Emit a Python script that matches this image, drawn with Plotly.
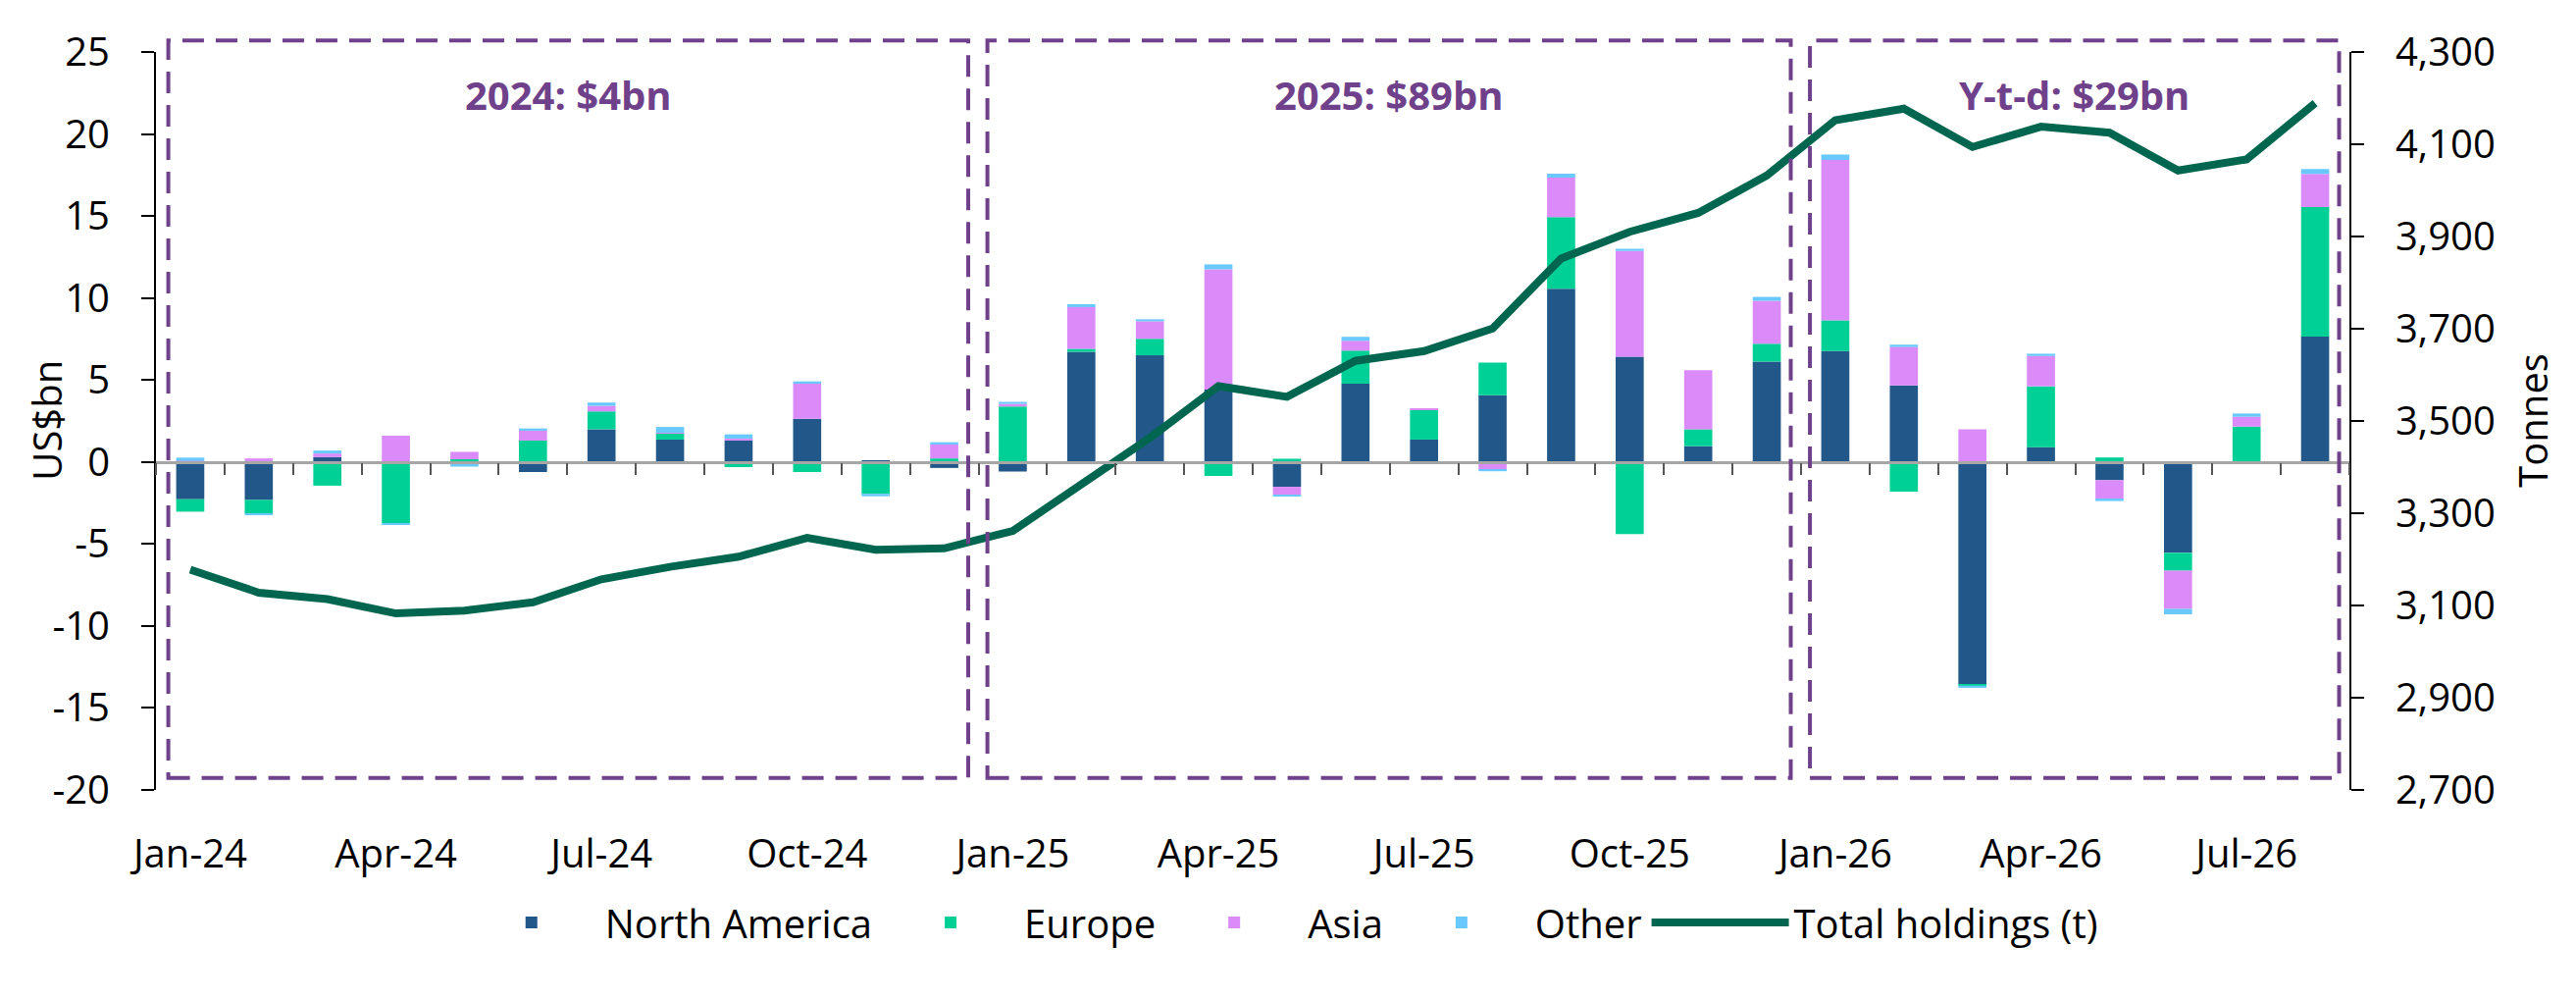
import plotly.graph_objects as go

# monthly flows (US$bn) by region, Jan-24 .. Aug-26
months = ['Jan-24', 'Feb-24', 'Mar-24', 'Apr-24', 'May-24', 'Jun-24', 'Jul-24', 'Aug-24',
          'Sep-24', 'Oct-24', 'Nov-24', 'Dec-24',
          'Jan-25', 'Feb-25', 'Mar-25', 'Apr-25', 'May-25', 'Jun-25', 'Jul-25', 'Aug-25',
          'Sep-25', 'Oct-25', 'Nov-25', 'Dec-25',
          'Jan-26', 'Feb-26', 'Mar-26', 'Apr-26', 'May-26', 'Jun-26', 'Jul-26', 'Aug-26']
tick_labels = ['Jan-24', 'Apr-24', 'Jul-24', 'Oct-24', 'Jan-25', 'Apr-25', 'Jul-25', 'Oct-25',
               'Jan-26', 'Apr-26', 'Jul-26']
usd_ticks = [-20, -15, -10, -5, 0, 5, 10, 15, 20, 25]
usd_tick_text = ['-20', '-15', '-10', '-5', '0', '5', '10', '15', '20', '25']

north_america = [-2.29, -2.33, 0.28, 0.0, -0.15, -0.63, 1.98, 1.35, 1.29, 2.62, 0.05, -0.38,
                 -0.6, 6.71, 6.49, 4.4, -1.53, 4.76, 1.35, 4.05, 10.56, 6.41, 0.95, 6.11,
                 6.75, 4.66, -13.57, 0.89, -1.13, -5.56, 0.0, 7.64]
europe = [-0.76, -0.83, -1.46, -3.75, 0.15, 1.29, 1.09, 0.38, -0.33, -0.63, -1.96, 0.2,
          3.37, 0.18, 1.01, -0.87, 0.18, 2.02, 1.83, 2.0, 4.37, -4.41, 1.03, 1.09,
          1.88, -1.83, -0.1, 3.71, 0.26, -1.09, 2.14, 7.9]
asia = [0.05, 0.2, 0.22, 1.59, 0.45, 0.6, 0.34, 0.03, 0.12, 2.14, 0.0, 0.85,
        0.16, 2.54, 1.07, 7.34, -0.48, 0.6, 0.08, -0.48, 2.4, 6.45, 3.61, 2.62,
        9.78, 2.34, 1.98, 1.85, -1.16, -2.33, 0.6, 2.02]
other = [0.2, -0.08, 0.18, -0.08, -0.15, 0.14, 0.2, 0.36, 0.26, 0.14, -0.15, 0.14,
         0.12, 0.18, 0.12, 0.3, -0.11, 0.24, -0.15, -0.1, 0.24, 0.14, -0.1, 0.24,
         0.34, 0.14, -0.13, 0.14, -0.11, -0.33, 0.2, 0.3]

# total holdings (tonnes), right axis
holdings = [3177, 3127, 3113, 3082, 3088, 3106, 3156, 3183, 3205, 3246, 3220, 3223,
            3261, 3360, 3463, 3575, 3552, 3630, 3651, 3700, 3852, 3910, 3951, 4032,
            4152, 4177, 4094, 4138, 4125, 4043, 4067, 4189]

# period boxes: (first month, last month, label)
periods = [('Jan-24', 'Dec-24', '2024: $4bn'),
           ('Jan-25', 'Dec-25', '2025: $89bn'),
           ('Jan-26', 'Aug-26', 'Y-t-d: $29bn')]

C_NA, C_EU, C_ASIA, C_OTHER = '#22578a', '#00d096', '#da8bf9', '#68c8ff'
C_LINE, C_BOX = '#00664f', '#6f418a'
FONT = 'Open Sans'

fig = go.Figure()
for name, vals, col in [('North America', north_america, C_NA), ('Europe', europe, C_EU),
                        ('Asia', asia, C_ASIA), ('Other', other, C_OTHER)]:
    fig.add_trace(go.Bar(x=months, y=vals, name=name, marker=dict(color=col, line_width=0)))
fig.add_trace(go.Scatter(x=months, y=holdings, name='Total holdings (t)', mode='lines',
                         line=dict(color=C_LINE, width=8), xaxis='x2', yaxis='y2'))

ymin, ymax = -20, 25
span = ymax - ymin
shapes, annotations = [], []
for first, last, label in periods:
    i0, i1 = months.index(first), months.index(last)
    # first box hugs the axis; neighbouring boxes leave a small gap
    x0 = i0 - 0.32 if i0 == 0 else i0 - 0.37
    x1 = i1 + 0.35
    shapes.append(dict(type='rect', xref='x', yref='paper', x0=x0, x1=x1,
                       y0=(-19.3 - ymin) / span, y1=(25.7 - ymin) / span,
                       line=dict(color=C_BOX, width=4, dash='22px,12px'), layer='above'))
    annotations.append(dict(x=(x0 + x1) / 2, y=22.4, xref='x', yref='y', text='<b>%s</b>' % label,
                            showarrow=False, font=dict(size=40, color=C_BOX, family=FONT)))

annotations.append(dict(text='US$bn', textangle=-90, xref='paper', yref='paper',
                        x=(40 - 151) / 2236, y=0.5, xanchor='center', yanchor='middle',
                        showarrow=False, font=dict(size=40)))
annotations.append(dict(text='Tonnes', textangle=-90, xref='paper', yref='paper',
                        x=(2574 - 151) / 2236, y=0.5, xanchor='center', yanchor='middle',
                        showarrow=False, font=dict(size=40)))

axis_common = dict(showgrid=False, zeroline=False, showline=True, linecolor='black', linewidth=2,
                   ticks='outside', ticklen=13, tickwidth=2, tickcolor='black',
                   ticklabelstandoff=24)

fig.update_layout(
    width=2626, height=1017,
    margin=dict(l=151, r=239, t=45, b=216),
    paper_bgcolor='white', plot_bgcolor='white',
    font=dict(family=FONT, size=40, color='black'),
    barmode='relative', bargap=0.59,
    xaxis=dict(type='category', categoryarray=months, range=[-0.5, len(months) - 0.5],
               tickmode='array', tickvals=tick_labels, ticktext=tick_labels,
               ticks='', showline=False, showgrid=False, zeroline=False,
               ticklabelstandoff=38),
    xaxis2=dict(type='category', categoryarray=months, range=[-0.5, len(months) - 0.5],
                overlaying='x', anchor='free', position=(0 - ymin) / span,
                tickmode='linear', tick0=0, dtick=1, tickson='boundaries',
                ticks='outside', ticklen=12, tickwidth=1.5, tickcolor='#555555',
                showticklabels=False, showline=True, linecolor='#a6a6a6', linewidth=2.5,
                showgrid=False, zeroline=False),
    yaxis=dict(range=[ymin, ymax], tickmode='array', tickvals=usd_ticks, ticktext=usd_tick_text,
               **axis_common),
    yaxis2=dict(range=[2700, 4300], tick0=2700, dtick=200, tickformat=',', overlaying='y',
                side='right', anchor='x', **axis_common),
    shapes=shapes, annotations=annotations,
    legend=dict(orientation='h', xref='container', yref='container', x=0.494, xanchor='center',
                y=1 - 932 / 1017, yanchor='middle', font=dict(size=40), traceorder='normal',
                itemwidth=140),
)

fig.write_html('out.html')
